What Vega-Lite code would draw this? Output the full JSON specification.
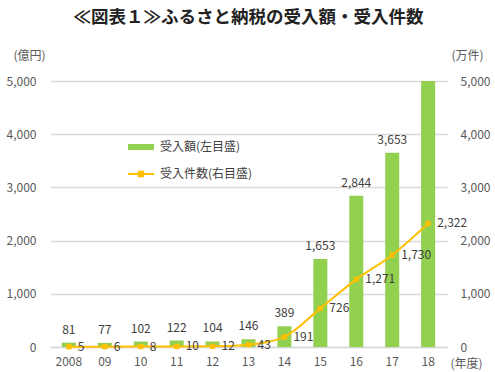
{
  "$schema": "https://vega.github.io/schema/vega-lite/v6.json",
  "width": 397,
  "height": 266,
  "autosize": {"type": "none"},
  "padding": {"left": 50, "top": 81, "right": 48, "bottom": 25},
  "background": "white",
  "config": {
    "font": "Noto Sans CJK JP",
    "view": {"stroke": null},
    "axis": {"labelColor": "#595959", "titleColor": "#595959", "labelFontSize": 12, "titleFontSize": 12, "titleFontWeight": "normal", "ticks": false, "domain": false},
    "legend": {"labelColor": "#404040", "labelFontSize": 12, "padding": 0}
  },
  "title": {"text": "≪図表１≫ふるさと納税の受入額・受入件数", "fontSize": 17.5, "fontWeight": "bold", "color": "#222222", "frame": "group", "anchor": "middle", "baseline": "bottom", "offset": 5},
  "data": {"values": [
    {"year": "2008", "amount": 81, "count": 5},
    {"year": "09", "amount": 77, "count": 6},
    {"year": "10", "amount": 102, "count": 8},
    {"year": "11", "amount": 122, "count": 10},
    {"year": "12", "amount": 104, "count": 12},
    {"year": "13", "amount": 146, "count": 43},
    {"year": "14", "amount": 389, "count": 191},
    {"year": "15", "amount": 1653, "count": 726},
    {"year": "16", "amount": 2844, "count": 1271},
    {"year": "17", "amount": 3653, "count": 1730},
    {"year": "18", "amount": 5127, "count": 2322}
  ]},
  "encoding": {
    "x": {"field": "year", "type": "nominal", "sort": null,
      "scale": {"paddingInner": 0.61, "paddingOuter": 0.33},
      "axis": {"labelAngle": 0, "labelPadding": 9, "domain": true, "domainColor": "#d9d9d9", "domainWidth": 1.5, "title": "(年度)", "titleAngle": 0, "titleX": 416, "titleY": 16, "titleAlign": "center", "titleBaseline": "middle"}}
  },
  "layer": [
    {
      "layer": [
        {
          "mark": {"type": "bar", "clip": true},
          "encoding": {
            "y": {"field": "amount", "type": "quantitative", "scale": {"domain": [0, 5000]},
              "axis": {"values": [0, 1000, 2000, 3000, 4000, 5000], "grid": true, "gridColor": "#d9d9d9", "gridWidth": 1.5, "labelPadding": 14, "title": "(億円)", "titleAngle": 0, "titleX": -21, "titleY": -26, "titleAlign": "center", "titleBaseline": "middle"}},
            "color": {"datum": "受入額(左目盛)", "type": "nominal", "scale": {"range": ["#92D050"]},
              "legend": {"title": null, "orient": "none", "legendX": 77, "legendY": 52, "symbolType": "M-1,-0.23H1V0.23H-1Z", "symbolSize": 676, "labelOffset": 5}}
          }
        },
        {
          "mark": {"type": "text", "clip": true, "baseline": "bottom", "dy": -6, "fontSize": 12, "color": "#404040"},
          "encoding": {
            "y": {"field": "amount", "type": "quantitative"},
            "text": {"field": "amount", "type": "quantitative", "format": ","}
          }
        }
      ]
    },
    {
      "layer": [
        {
          "mark": {"type": "line", "interpolate": "monotone", "strokeWidth": 2, "point": {"shape": "square", "size": 28, "filled": true}},
          "encoding": {
            "y": {"field": "count", "type": "quantitative", "scale": {"domain": [0, 5000]},
              "axis": {"orient": "right", "values": [0, 1000, 2000, 3000, 4000, 5000], "grid": false, "labelPadding": 13, "title": "(万件)", "titleAngle": 0, "titleX": 20, "titleY": -26, "titleAlign": "center", "titleBaseline": "middle"}},
            "color": {"datum": "受入件数(右目盛)", "type": "nominal", "scale": {"range": ["#FFC000"]},
              "legend": {"title": null, "orient": "none", "legendX": 77, "legendY": 79, "symbolType": "M-1,0H1M-0.17,-0.17H0.17V0.17H-0.17Z", "symbolSize": 676, "symbolStrokeWidth": 2, "symbolFillColor": "#FFC000", "labelOffset": 5}}
          }
        },
        {
          "mark": {"type": "text", "align": "left", "baseline": "middle", "dx": 9, "fontSize": 12, "color": "#404040"},
          "encoding": {
            "y": {"field": "count", "type": "quantitative"},
            "text": {"field": "count", "type": "quantitative", "format": ","}
          }
        }
      ]
    }
  ],
  "resolve": {"scale": {"y": "independent", "color": "independent"}, "legend": {"color": "independent"}}
}
